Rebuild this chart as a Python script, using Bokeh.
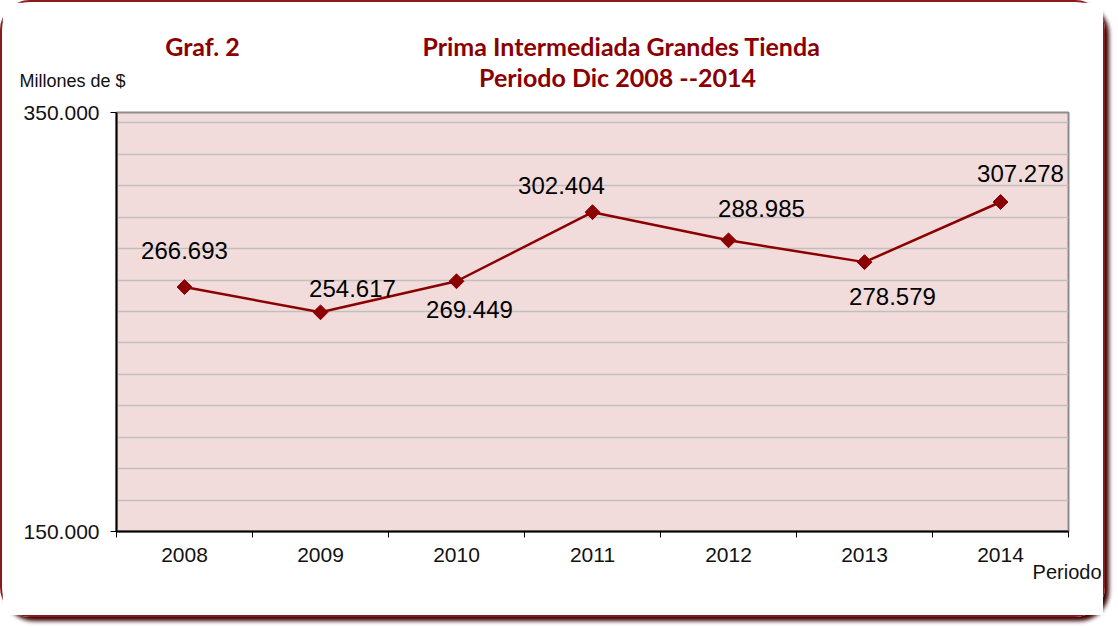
import math
from bokeh.plotting import figure
from bokeh.models import Range1d, FixedTicker, ColumnDataSource, Label
from bokeh.embed import file_html
from bokeh.resources import INLINE
from bokeh.core.properties import value

years = ["2008", "2009", "2010", "2011", "2012", "2013", "2014"]
primas = [266693, 254617, 269449, 302404, 288985, 278579, 307278]
labels = ["266.693", "254.617", "269.449", "302.404", "288.985", "278.579", "307.278"]
y_ticks = [150000, 350000]
y_tick_labels = ["150.000", "350.000"]
y_grid = [165000 + 15000 * i for i in range(13)]

# label placement (screen px offsets)
lab_dx = [0, 32, 13, -31, 33, 28, 20]
lab_dy = [-37, -24, 28, -27, -32, 34, -29]

DARK = "#8B0000"
FONT = "Liberation Sans"

xs = [i + 0.5 for i in range(len(years))]

p = figure(width=1105, height=617, output_backend="svg", toolbar_location=None,
           x_range=Range1d(0, len(years)), y_range=Range1d(150000, 350000))
p.min_border_left = 114
p.min_border_top = 110
p.min_border_right = 39
p.min_border_bottom = 88
p.background_fill_color = "#F2DCDB"
p.border_fill_color = "white"
p.outline_line_color = "#8C8C8C"
p.outline_line_width = 2
p.styles = {"border": "2px solid #8B1A1A", "border-radius": "30px",
            "box-shadow": "4px 4px 4px #3a0000", "box-sizing": "border-box"}

# axes
p.xaxis.ticker = FixedTicker(ticks=xs, minor_ticks=list(range(len(years) + 1)))
p.xaxis.major_label_overrides = {x: y for x, y in zip(xs, years)}
p.xaxis.major_tick_line_color = None
p.xaxis.minor_tick_line_color = "black"
p.xaxis.minor_tick_in = 0
p.xaxis.minor_tick_out = 6
p.xaxis.axis_line_color = "black"
p.xaxis.axis_line_width = 2
p.xaxis.major_label_text_font = FONT
p.xaxis.major_label_text_font_size = "21px"
p.xaxis.major_label_text_color = "#111111"
p.xaxis.major_label_standoff = 10

p.yaxis.ticker = FixedTicker(ticks=y_ticks, minor_ticks=y_grid)
p.yaxis.major_label_overrides = {t: l for t, l in zip(y_ticks, y_tick_labels)}
p.yaxis.minor_tick_line_color = None
p.yaxis.major_tick_in = 0
p.yaxis.major_tick_out = 6
p.yaxis.major_tick_line_color = "black"
p.yaxis.axis_line_color = "black"
p.yaxis.axis_line_width = 2
p.yaxis.major_label_text_font = FONT
p.yaxis.major_label_text_font_size = "21px"
p.yaxis.major_label_text_color = "#111111"
p.yaxis.major_label_standoff = 11

p.xgrid.grid_line_color = None
p.ygrid.grid_line_color = None
p.ygrid.minor_grid_line_color = "#BFBFBF"
p.ygrid.minor_grid_line_width = 1.5

src = ColumnDataSource(dict(x=xs, y=primas, t=labels, dx=lab_dx, dy=lab_dy))
p.line("x", "y", source=src, line_color=DARK, line_width=2.5)
p.scatter("x", "y", source=src, marker="square", angle=math.pi / 4, size=10.5,
          fill_color=DARK, line_color=DARK)
p.text("x", "y", text="t", source=src, x_offset="dx", y_offset="dy",
       text_font=value(FONT), text_font_size="24px", text_color="#000000",
       text_align="center", text_baseline="middle")

# free texts in side panels, canvas units (page px -> canvas px)
def cx(px):
    return px - 3

def cy(py):
    return py - 4

TFONT = "Lato"
def lab(x, y, text, font, size, color, align, side, bold=False):
    p.add_layout(Label(x=cx(x), y=cy(y), x_units="canvas", y_units="canvas",
                       text=text, text_font=font, text_font_size=size,
                       text_font_style="bold" if bold else "normal",
                       text_color=color, text_align=align, text_baseline="middle"), side)

lab(201, 45, "Graf. 2", TFONT, "25px", DARK, "center", "above", True)
lab(620, 45, "Prima Intermediada Grandes Tienda", TFONT, "25px", DARK, "center", "above", True)
lab(616, 76, "Periodo Dic 2008 --2014", TFONT, "25px", DARK, "center", "above", True)
lab(18, 80, "Millones de $", FONT, "18px", "#111111", "left", "below")
lab(1100, 571, "Periodo", FONT, "20px", "#111111", "right", "below")

open("out.html", "w").write(file_html(p, INLINE))
